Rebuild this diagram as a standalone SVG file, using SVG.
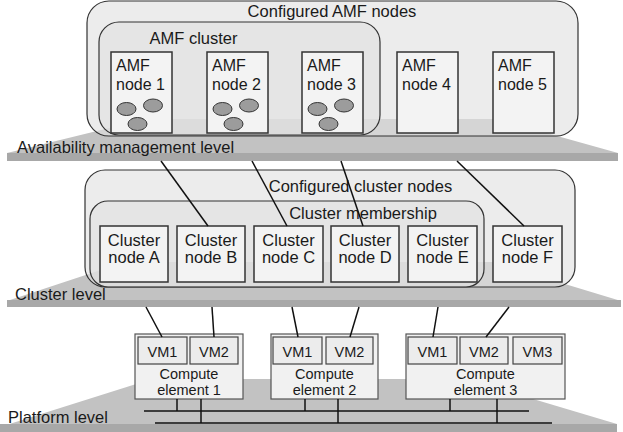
<svg xmlns="http://www.w3.org/2000/svg" width="623" height="432" viewBox="0 0 623 432">
<style>
text{font-family:"Liberation Sans",Arial,Helvetica,sans-serif;fill:#1a1a1a}
.plane{fill:#c2c2c2}
.strip{fill:#a8a8a8}
.grp{fill:#e0e0e0;fill-opacity:0.62;stroke:#333;stroke-width:1.2}
.node{fill:#f3f3f3;stroke:#333;stroke-width:1.5}
.ce{fill:#f1f1f1;stroke:#555;stroke-width:1.2}
.vm{fill:#ececec;stroke:#444;stroke-width:1.2}
.comp{fill:#9c9c9c;stroke:#333;stroke-width:1}
.lbl{font-size:16.5px}
.t16{font-size:16px}
.t14{font-size:14.5px}
.mid{text-anchor:middle}
.conn line{stroke:#111;stroke-width:1.5}
</style>
<g id="platform-level">
<polygon class="plane" points="152,379 466,379 617,424 0,427"/>
<rect class="strip" x="0" y="424" width="617" height="8"/>
</g>
<g id="cluster-level">
<polygon class="plane" points="125,262 492,262 621,301 7,301"/>
<rect class="strip" x="7" y="300" width="614" height="7"/>
</g>
<g id="amf-level">
<polygon class="plane" points="146,119 496,119 618,153 7,153"/>
<rect class="strip" x="7" y="153" width="611" height="8"/>
</g>
<text class="lbl" x="17" y="153">Availability management level</text>
<text class="lbl" x="15" y="300">Cluster level</text>
<text class="lbl" x="8" y="423">Platform level</text>

<g id="configured-amf-nodes">
<rect class="grp" x="87" y="1" width="491" height="135" rx="22"/>
<text class="lbl mid" x="332" y="17">Configured AMF nodes</text>
</g>
<g id="amf-cluster">
<rect class="grp" x="99" y="22" width="281" height="113" rx="20"/>
<text class="lbl mid" x="193.5" y="44">AMF cluster</text>
</g>
<g id="amf-node-1">
<rect class="node" x="111" y="52" width="61" height="81"/>
<text class="t16" x="116" y="71">AMF</text><text class="t16" x="116" y="90">node 1</text>
<ellipse class="comp" cx="126.5" cy="109" rx="9.5" ry="6.5"/><ellipse class="comp" cx="153" cy="105.5" rx="9.5" ry="6.5"/><ellipse class="comp" cx="137.5" cy="124" rx="9.5" ry="6.5"/>
</g>
<g id="amf-node-2">
<rect class="node" x="207" y="52" width="61" height="81"/>
<text class="t16" x="212" y="71">AMF</text><text class="t16" x="212" y="90">node 2</text>
<ellipse class="comp" cx="222.5" cy="109" rx="9.5" ry="6.5"/><ellipse class="comp" cx="249" cy="105.5" rx="9.5" ry="6.5"/><ellipse class="comp" cx="233.5" cy="124" rx="9.5" ry="6.5"/>
</g>
<g id="amf-node-3">
<rect class="node" x="302" y="52" width="61" height="81"/>
<text class="t16" x="307" y="71">AMF</text><text class="t16" x="307" y="90">node 3</text>
<ellipse class="comp" cx="317.5" cy="109" rx="9.5" ry="6.5"/><ellipse class="comp" cx="344" cy="105.5" rx="9.5" ry="6.5"/><ellipse class="comp" cx="328.5" cy="124" rx="9.5" ry="6.5"/>
</g>
<g id="amf-node-4">
<rect class="node" x="397" y="52" width="61" height="81"/>
<text class="t16" x="402" y="71">AMF</text><text class="t16" x="402" y="90">node 4</text>
</g>
<g id="amf-node-5">
<rect class="node" x="493" y="52" width="61" height="81"/>
<text class="t16" x="498" y="71">AMF</text><text class="t16" x="498" y="90">node 5</text>
</g>

<g id="configured-cluster-nodes">
<rect class="grp" x="85" y="170" width="490" height="117" rx="20"/>
<text class="lbl mid" x="360.5" y="192">Configured cluster nodes</text>
</g>
<g id="cluster-membership">
<rect class="grp" x="90" y="201" width="394" height="86" rx="18"/>
<text class="lbl mid" x="363" y="219">Cluster membership</text>
</g>
<g id="cluster-node-a"><rect class="node" x="100" y="226" width="68" height="56"/><text class="lbl mid" x="134" y="246">Cluster</text><text class="lbl mid" x="134" y="263">node A</text></g>
<g id="cluster-node-b"><rect class="node" x="177" y="226" width="68" height="56"/><text class="lbl mid" x="211" y="246">Cluster</text><text class="lbl mid" x="211" y="263">node B</text></g>
<g id="cluster-node-c"><rect class="node" x="254" y="226" width="69" height="56"/><text class="lbl mid" x="288.5" y="246">Cluster</text><text class="lbl mid" x="288.5" y="263">node C</text></g>
<g id="cluster-node-d"><rect class="node" x="331" y="226" width="68" height="56"/><text class="lbl mid" x="365" y="246">Cluster</text><text class="lbl mid" x="365" y="263">node D</text></g>
<g id="cluster-node-e"><rect class="node" x="408" y="226" width="69" height="56"/><text class="lbl mid" x="442.5" y="246">Cluster</text><text class="lbl mid" x="442.5" y="263">node E</text></g>
<g id="cluster-node-f"><rect class="node" x="493" y="226" width="69" height="56"/><text class="lbl mid" x="527.5" y="246">Cluster</text><text class="lbl mid" x="527.5" y="263">node F</text></g>

<g id="compute-element-1">
<rect class="ce" x="135" y="334" width="108" height="65"/>
<rect class="vm" x="138" y="337" width="49" height="27"/><text class="t14 mid" x="162.5" y="357">VM1</text>
<rect class="vm" x="190" y="337" width="48" height="27"/><text class="t14 mid" x="214" y="357">VM2</text>
<text class="t14 mid" x="189" y="379">Compute</text><text class="t14 mid" x="189" y="395">element 1</text>
</g>
<g id="compute-element-2">
<rect class="ce" x="271" y="334" width="107" height="65"/>
<rect class="vm" x="273" y="337" width="49" height="27"/><text class="t14 mid" x="297.5" y="357">VM1</text>
<rect class="vm" x="326" y="337" width="47" height="27"/><text class="t14 mid" x="349.5" y="357">VM2</text>
<text class="t14 mid" x="324.5" y="379">Compute</text><text class="t14 mid" x="324.5" y="395">element 2</text>
</g>
<g id="compute-element-3">
<rect class="ce" x="406" y="334" width="159" height="65"/>
<rect class="vm" x="408" y="337" width="49" height="27"/><text class="t14 mid" x="432.5" y="357">VM1</text>
<rect class="vm" x="460" y="337" width="48" height="27"/><text class="t14 mid" x="484" y="357">VM2</text>
<rect class="vm" x="513" y="337" width="49" height="27"/><text class="t14 mid" x="537.5" y="357">VM3</text>
<text class="t14 mid" x="485.5" y="379">Compute</text><text class="t14 mid" x="485.5" y="395">element 3</text>
</g>

<g id="connectors" class="conn">
<line x1="161" y1="161" x2="208" y2="226"/>
<line x1="252" y1="161" x2="287" y2="226"/>
<line x1="341" y1="161" x2="363" y2="226"/>
<line x1="457" y1="161" x2="524" y2="226"/>
<line x1="146" y1="307" x2="162" y2="337"/>
<line x1="212" y1="307" x2="214" y2="337"/>
<line x1="292" y1="307" x2="298" y2="337"/>
<line x1="359" y1="307" x2="350" y2="337"/>
<line x1="438" y1="307" x2="433" y2="337"/>
<line x1="509" y1="307" x2="486" y2="337"/>
<line x1="144" y1="411" x2="529" y2="411"/>
<line x1="155" y1="423" x2="552" y2="423"/>
<line x1="177" y1="399" x2="177" y2="411"/>
<line x1="201" y1="399" x2="201" y2="423"/>
<line x1="305" y1="399" x2="305" y2="411"/>
<line x1="338" y1="399" x2="338" y2="423"/>
<line x1="450" y1="399" x2="450" y2="411"/>
<line x1="497" y1="399" x2="497" y2="423"/>
</g>
</svg>
